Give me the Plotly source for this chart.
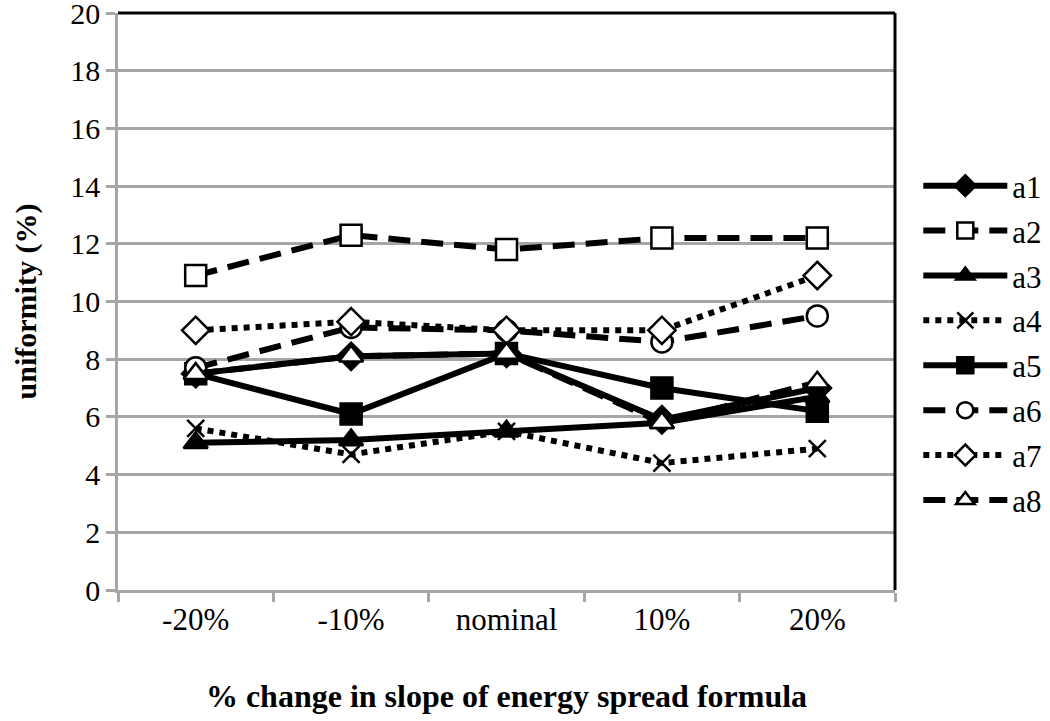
import plotly.graph_objects as go

categories = ["-20%", "-10%", "nominal", "10%", "20%"]
series_names = ["a1", "a2", "a3", "a4", "a5", "a6", "a7", "a8"]
a1 = [7.5, 8.1, 8.2, 5.9, 7.0]
a2 = [10.9, 12.3, 11.8, 12.2, 12.2]
a3 = [5.1, 5.2, 5.5, 5.8, 6.7]
a4 = [5.6, 4.7, 5.5, 4.4, 4.9]
a5 = [7.5, 6.1, 8.2, 7.0, 6.2]
a6 = [7.7, 9.1, 9.0, 8.6, 9.5]
a7 = [9.0, 9.3, 9.0, 9.0, 10.9]
a8 = [7.5, 8.1, 8.2, 5.8, 7.2]
values = [a1, a2, a3, a4, a5, a6, a7, a8]

styles = {
    "a1": dict(dash="solid", symbol="diamond", fill="black"),
    "a2": dict(dash="22px,11px", symbol="square", fill="white"),
    "a3": dict(dash="solid", symbol="triangle-up", fill="black"),
    "a4": dict(dash="dot", symbol="x-thin-open", fill="black"),
    "a5": dict(dash="solid", symbol="square", fill="black"),
    "a6": dict(dash="22px,11px", symbol="circle", fill="white"),
    "a7": dict(dash="dot", symbol="diamond", fill="white"),
    "a8": dict(dash="22px,11px", symbol="triangle-up", fill="white"),
}

FONT = "Liberation Serif"

fig = go.Figure()
for name, vals in zip(series_names, values):
    st = styles[name]
    fig.add_trace(go.Scatter(
        x=categories, y=vals, name=name, mode="lines+markers",
        legendgroup=name,
        line=dict(color="black", width=6, dash=st["dash"]),
        marker=dict(symbol=st["symbol"], size=21 if st["symbol"] != "x-thin-open" else 17,
                    color=st["fill"],
                    line=dict(color="black", width=2.5)),
    ))

grid = "#a6a6a6"
fig.update_layout(
    width=1050, height=721,
    paper_bgcolor="white", plot_bgcolor="white",
    margin=dict(l=118, r=155, t=13, b=131, autoexpand=False),
    font=dict(family=FONT, size=31, color="black"),
    showlegend=True,
    legend=dict(x=1.03, y=0.747, xanchor="left", yanchor="top",
                font=dict(family=FONT, size=31, color="black"),
                itemwidth=84, tracegroupgap=1.6, traceorder="grouped",
                bgcolor="rgba(0,0,0,0)"),
    xaxis=dict(type="category", showgrid=False, showline=True, linecolor=grid,
               linewidth=2.5, ticks="outside", tickson="boundaries", ticklen=9,
               tickcolor=grid, tickwidth=2.5, automargin=False,
               tickfont=dict(family=FONT, size=31),
               title=dict(text="<b>% change in slope of energy spread formula</b>",
                          font=dict(family=FONT, size=32), standoff=49),
               range=[-0.5, 4.5]),
    yaxis=dict(range=[0, 20], dtick=2, showgrid=True, gridcolor=grid, gridwidth=2.5,
               showline=True, linecolor=grid, linewidth=2.5, ticks="outside",
               ticklen=9, tickcolor=grid, tickwidth=2.5, zeroline=False,
               ticklabeloverflow="allow", automargin=False,
               tickfont=dict(family=FONT, size=30),
               title=dict(text="<b>uniformity (%)</b>",
                          font=dict(family=FONT, size=30), standoff=25)),
    shapes=[
        dict(type="line", xref="paper", yref="paper", x0=0, x1=1, y0=1, y1=1,
             line=dict(color="black", width=3)),
        dict(type="line", xref="paper", yref="paper", x0=1, x1=1, y0=0, y1=1,
             line=dict(color="black", width=3)),
    ],
)

fig.write_html("out.html", config={"displayModeBar": False},
               post_script="document.body.style.margin='0';")
